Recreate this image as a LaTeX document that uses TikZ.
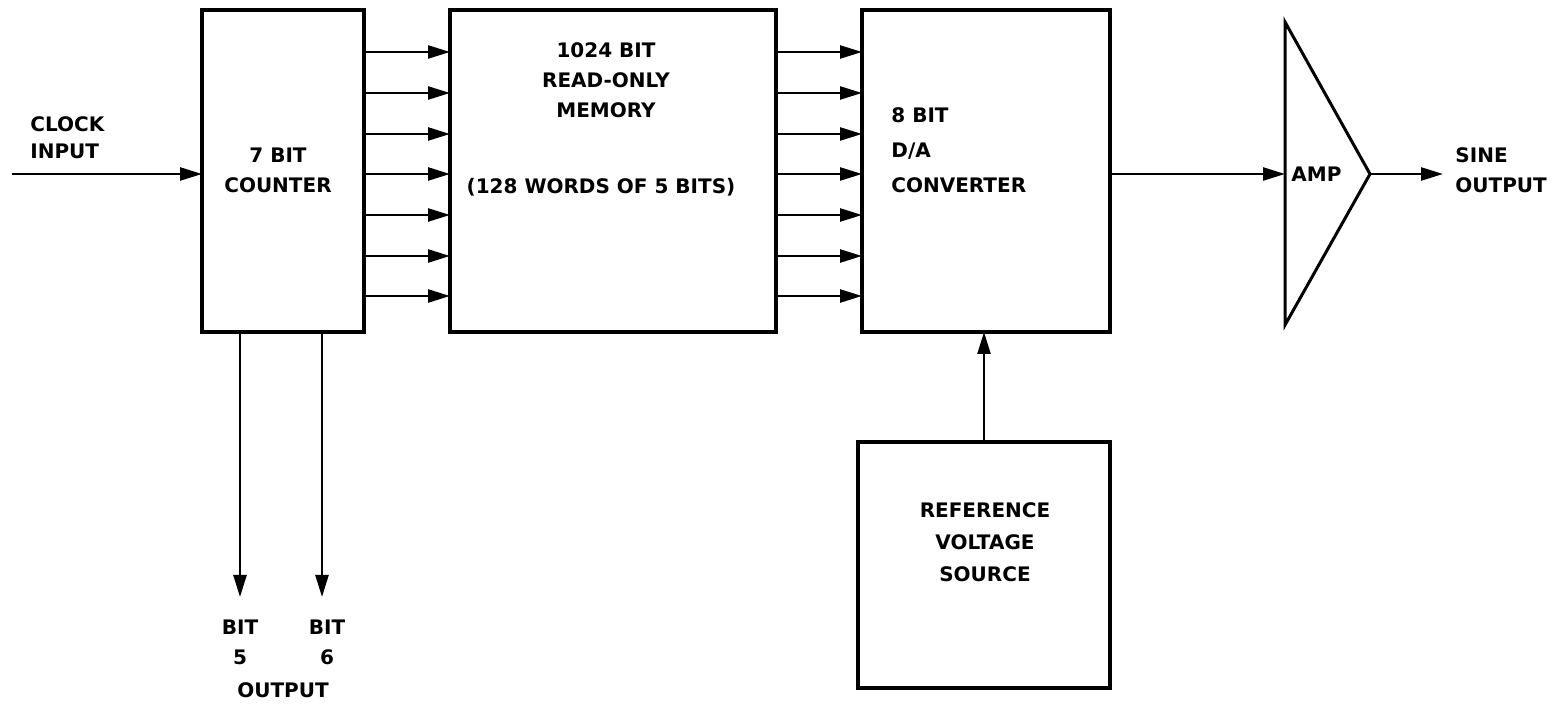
\documentclass[tikz,border=0pt]{standalone}
\usepackage{fontspec}
\setmainfont{DejaVu Sans}
\usetikzlibrary{arrows.meta,positioning}

\begin{document}
\begin{tikzpicture}[x=0.5pt,y=-0.5pt,
      every node/.style={font=\bfseries\fontsize{10}{15}\selectfont},
      blk/.style={draw,line width=2pt,minimum height=161pt,inner sep=0pt,outer sep=0pt},
      txt/.style={align=center,inner sep=0pt},
      arr/.style={line width=1.2pt,-{Triangle[length=11pt,width=6.5pt]}}]
    \useasboundingbox (0,0) rectangle (1556,704);
    % blocks
    \node[blk,minimum width=81pt]  (cnt) at (283,171) {};
    \node[blk,minimum width=163pt] (mem) at (613,171) {};
    \node[blk,minimum width=124pt] (dac) at (986,171) {};
    \node[blk,minimum width=126pt,minimum height=123pt] (ref) at (984,565) {};
    \draw[line width=1.5pt,line join=miter] (1285,22) coordinate (ampTop)
      -- (1370,174) coordinate (ampO) -- (1285,325) coordinate (ampBot) -- cycle;
    \coordinate (ampI) at (1285,174);
    % texts
    \node[txt,align=left,anchor=west,font=\bfseries\fontsize{10}{13.5}\selectfont] (clk) at (30,138) {CLOCK\\INPUT};
    \node[txt] (cntT) at (278,170) {7 BIT\\COUNTER};
    \node[txt] (memT) at (606,80)  {1024 BIT\\READ-ONLY\\MEMORY};
    \node[txt] (memW) at (601,187) {(128 WORDS OF 5 BITS)};
    \node[txt,align=left,anchor=west,font=\bfseries\fontsize{10}{17.5}\selectfont] (dacT) at (891,150) {8 BIT\\D/A\\CONVERTER};
    \node[txt,font=\bfseries\fontsize{10}{16}\selectfont] (refT) at (985,542) {REFERENCE\\VOLTAGE\\SOURCE};
    \node[txt,anchor=west] (ampL) at (1291,174) {AMP};
    \node[txt,align=left,anchor=west] (sine) at (1455,170) {SINE\\OUTPUT};
    \node[txt] (bit5) at (240,642) {BIT\\5};
    \node[txt] (bit6) at (327,642) {BIT\\6};
    \node[txt] (outp) at (283,690) {OUTPUT};
    \coordinate (clkS) at (12,174);
    \coordinate (b5) at (240,597);
    \coordinate (b6) at (322,597);
    \coordinate (outE) at (1443,174);
    % connectors
    \foreach \y in {52,93,134,174,215,256,296} {
      \draw[arr] (cnt.east |- 0,\y) -- (mem.west |- 0,\y);
      \draw[arr] (mem.east |- 0,\y) -- (dac.west |- 0,\y);
    }
    \draw[arr] (clkS) -- (clkS -| cnt.west);
    \draw[arr] (dac.east |- ampI) -- (ampI);
    \draw[arr] (ampO) -- (outE);
    \draw[arr] (ref.north) -- (ref.north |- dac.south);
    \draw[arr] (b5 |- cnt.south) -- (b5);
    \draw[arr] (b6 |- cnt.south) -- (b6);
  \end{tikzpicture}
\end{document}
